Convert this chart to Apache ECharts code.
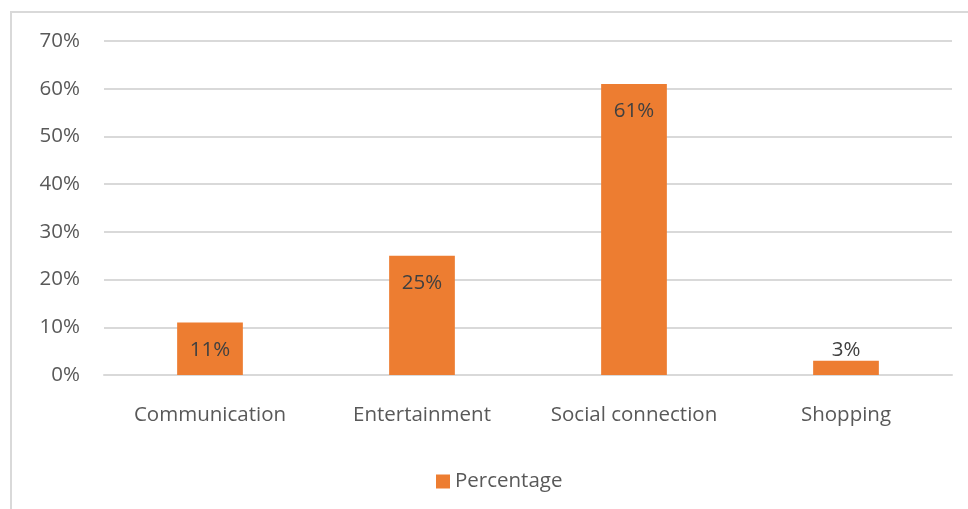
<!DOCTYPE html>
<html>
<head>
<meta charset="utf-8">
<script src="https://cdn.jsdelivr.net/npm/echarts@6/dist/echarts.min.js"></script>
<style>
  html, body { margin: 0; padding: 0; background: #fff; }
  #frame { position: absolute; left: 10px; top: 11px; width: 980px; height: 520px;
           border: 2px solid #d9d9d9; box-sizing: border-box; }
  #chart { position: absolute; left: 0; top: 0; width: 968px; height: 509px; }
</style>
</head>
<body>
<div id="frame"></div>
<div id="chart"></div>
<script>
// Share of usage by purpose
const categories = ['Communication', 'Entertainment', 'Social connection', 'Shopping'];
const percentages = [11, 25, 61, 3];
const seriesName = 'Percentage';
const yTicks = [0, 10, 20, 30, 40, 50, 60, 70];

const FONT = '"Open Sans"';
const SIZE = 20.5;
const TEXT = '#595959';
const BAR = '#ED7D31';

const barData = percentages.map(function (v, i) {
  const small = v < 5;
  return {
    value: v,
    label: small
      ? { position: 'top', distance: 0 }
      : { position: 'insideTop', distance: 17 }
  };
});

const chart = echarts.init(document.getElementById('chart'), null, { renderer: 'canvas' });
chart.setOption({
  animation: false,
  backgroundColor: 'transparent',
  grid: { left: 104, right: 16, top: 41, bottom: 134, containLabel: false },
  xAxis: {
    type: 'category',
    data: categories,
    axisLine: { show: true, lineStyle: { color: '#d9d9d9', width: 2 } },
    axisTick: { show: false },
    axisLabel: { color: TEXT, fontFamily: FONT, fontSize: SIZE, margin: 30, interval: 0 }
  },
  yAxis: {
    type: 'value',
    min: yTicks[0],
    max: yTicks[yTicks.length - 1],
    interval: 10,
    axisLine: { show: false },
    axisTick: { show: false },
    splitLine: { lineStyle: { color: '#d9d9d9', width: 2 } },
    axisLabel: { color: TEXT, fontFamily: FONT, fontSize: SIZE, margin: 24,
                 formatter: function (v) { return v + '%'; } }
  },
  legend: {
    data: [seriesName],
    bottom: 17,
    left: 436,
    padding: 0,
    icon: 'rect',
    itemWidth: 14,
    itemHeight: 14,
    textStyle: { color: TEXT, fontFamily: FONT, fontSize: SIZE }
  },
  series: [{
    name: seriesName,
    type: 'bar',
    barWidth: '31%',
    itemStyle: { color: BAR },
    label: {
      show: true,
      color: '#404040',
      fontFamily: FONT,
      fontSize: SIZE,
      formatter: function (p) { return p.value + '%'; }
    },
    data: barData
  }]
});
</script>
</body>
</html>
